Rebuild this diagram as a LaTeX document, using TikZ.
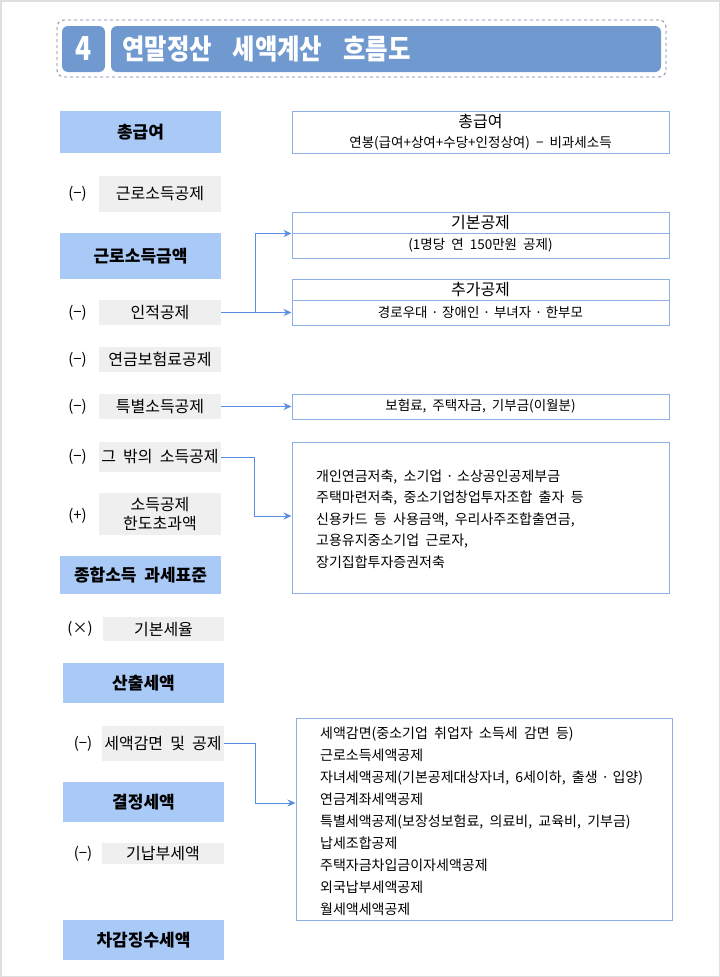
\documentclass[tikz,border=0pt]{standalone}
\usepackage{fontspec}
\setmainfont{Noto Sans CJK KR}[WordSpace=2]
\usepackage{graphicx}
\usetikzlibrary{arrows.meta}
\definecolor{bluebox}{HTML}{A9C9F7}
\definecolor{titlec}{HTML}{6F99CF}
\definecolor{graybox}{HTML}{EFEFEF}
\definecolor{rborder}{HTML}{8EAEE6}
\definecolor{arrowc}{HTML}{5B8DE0}
\definecolor{dashc}{HTML}{6F7F9C}
\newcommand{\bx}[7]{\node[#1, minimum width={#5-#3}, minimum height={#6-#4}] (#2) at ({(#3+#5)/2},{(#4+#6)/2}) {#7};}
\newcommand{\mdot}{\hspace{3.5pt}·\hspace{3.5pt}}
\begin{document}
\begin{tikzpicture}[x=1pt,y=-1pt,
  bbox/.style={fill=bluebox, inner sep=0, font=\fontsize{17}{19}\selectfont\bfseries},
  gbox/.style={fill=graybox, inner sep=0, align=center, font=\fontsize{16}{19}\selectfont},
  rbox/.style={draw=rborder, line width=1pt, fill=white, inner sep=0, align=center, font=\fontsize{13.5}{20}\selectfont},
  rhead/.style={draw=rborder, line width=1pt, fill=white, inner sep=0, font=\fontsize{16}{17}\selectfont},
  sign/.style={inner sep=0, font=\fontsize{15}{18}\selectfont},
  lst/.style={inner sep=0, anchor=west, align=left},
  link/.style={draw=arrowc, line width=1pt},
  conn/.style={draw=arrowc, line width=1pt, -{Stealth[length=8pt,width=7pt]}}]
\useasboundingbox (0,0) rectangle (720,977);
\draw[gray!25, line width=1.5pt] (0.75,0.75) rectangle (719.25,976.25);
% header
\bx{draw=dashc, dashed, line width=0.8pt, rounded corners=7pt}{hdr}{57}{20}{666}{77}{}
\bx{fill=titlec, rounded corners=6pt}{num}{62}{26}{105}{72}{}
\bx{fill=titlec, rounded corners=6pt}{title}{111}{26}{661}{72}{}
\node[text=white, inner sep=0, font=\fontsize{33}{35}\selectfont\bfseries] (numt) at (num.center) {\scalebox{0.8}[1]{4}};
\node[text=white, inner sep=0, anchor=west, font=\fontsize{28}{30}\selectfont\bfseries] (titlet) at (122,49) {\scalebox{0.87}[1]{연말정산\hspace{24pt}세액계산\hspace{24pt}흐름도}};
% left column
\bx{bbox}{b1}{60}{111}{221}{153}{총급여}
\bx{gbox}{g1}{99}{176}{221}{212}{근로소득공제}
\node[sign] (s1) at (77.5,194) {(−)};
\bx{bbox}{b2}{60}{233}{221}{279}{근로소득금액}
\bx{gbox}{g2}{99}{300}{221}{325}{인적공제}
\node[sign] (s2) at (77.5,312.5) {(−)};
\bx{gbox}{g3}{99}{347}{221}{372}{연금보험료공제}
\node[sign] (s3) at (77.5,360) {(−)};
\bx{gbox}{g4}{99}{394}{221}{419}{특별소득공제}
\node[sign] (s4) at (77.5,406.5) {(−)};
\bx{gbox}{g5}{99}{442}{221}{472}{그 밖의 소득공제}
\node[sign] (s5) at (77.5,457) {(−)};
\bx{gbox}{g6}{99}{493}{221}{535}{소득공제\\한도초과액}
\node[sign] (s6) at (77.5,516) {(+)};
\bx{bbox}{b3}{60}{556}{221}{594}{종합소득 과세표준}
\bx{gbox}{g7}{103}{617}{224}{641}{기본세율}
\node[sign] (s7) at (80,629) {(×)};
\bx{bbox}{b4}{63}{663}{224}{703}{산출세액}
\bx{gbox}{g8}{102}{726}{224}{761}{세액감면 및 공제}
\node[sign] (s8) at (83,743.5) {(−)};
\bx{bbox}{b5}{63}{782}{224}{822}{결정세액}
\bx{gbox}{g9}{102}{843}{224}{864}{기납부세액}
\node[sign] (s9) at (83,853.5) {(−)};
\bx{bbox}{b6}{63}{920}{224}{960}{차감징수세액}
% right column
\bx{rbox}{r1}{292}{111}{669}{153}{{\fontsize{16}{17}\selectfont 총급여}\\연봉(급여+상여+수당+인정상여) − 비과세소득}
\bx{rhead}{r2t}{292}{212}{669}{233}{기본공제}
\bx{rbox}{r2b}{292}{233}{669}{258}{(1명당 연 150만원 공제)}
\bx{rhead}{r3t}{292}{279}{669}{300}{추가공제}
\bx{rbox}{r3b}{292}{300}{669}{325}{경로우대\mdot 장애인\mdot 부녀자\mdot 한부모}
\bx{rbox}{r4}{292}{394}{669}{419}{보험료, 주택자금, 기부금(이월분)}
\bx{rbox}{r5}{292}{442}{669}{593}{}
\node[lst, font=\fontsize{14}{21.5}\selectfont] (t5) at (316,519) {개인연금저축, 소기업\mdot 소상공인공제부금\\주택마련저축, 중소기업창업투자조합 출자 등\\신용카드 등 사용금액, 우리사주조합출연금,\\고용유지중소기업 근로자,\\장기집합투자증권저축};
\bx{rbox}{r6}{296}{718}{672}{920}{}
\node[lst, font=\fontsize{14}{22}\selectfont] (t6) at (320,821) {세액감면(중소기업 취업자 소득세 감면 등)\\근로소득세액공제\\자녀세액공제(기본공제대상자녀, 6세이하, 출생\mdot 입양)\\연금계좌세액공제\\특별세액공제(보장성보험료, 의료비, 교육비, 기부금)\\납세조합공제\\주택자금차입금이자세액공제\\외국납부세액공제\\월세액세액공제};
% connectors
\coordinate (j1) at (255,312.5);
\draw[link] (g2.east) -- (j1);
\draw[conn] (j1) |- (r2t.south west);
\draw[conn] (g2.east) -- (r3b.west);
\draw[conn] (g4.east) -- (r4.west);
\coordinate (j2) at (254,516);
\draw[conn] (g5.east) -| (j2) -- (r5.west |- j2);
\coordinate (j3) at (255,803);
\draw[conn] (g8.east) -| (j3) -- (r6.west |- j3);
\end{tikzpicture}
\end{document}
